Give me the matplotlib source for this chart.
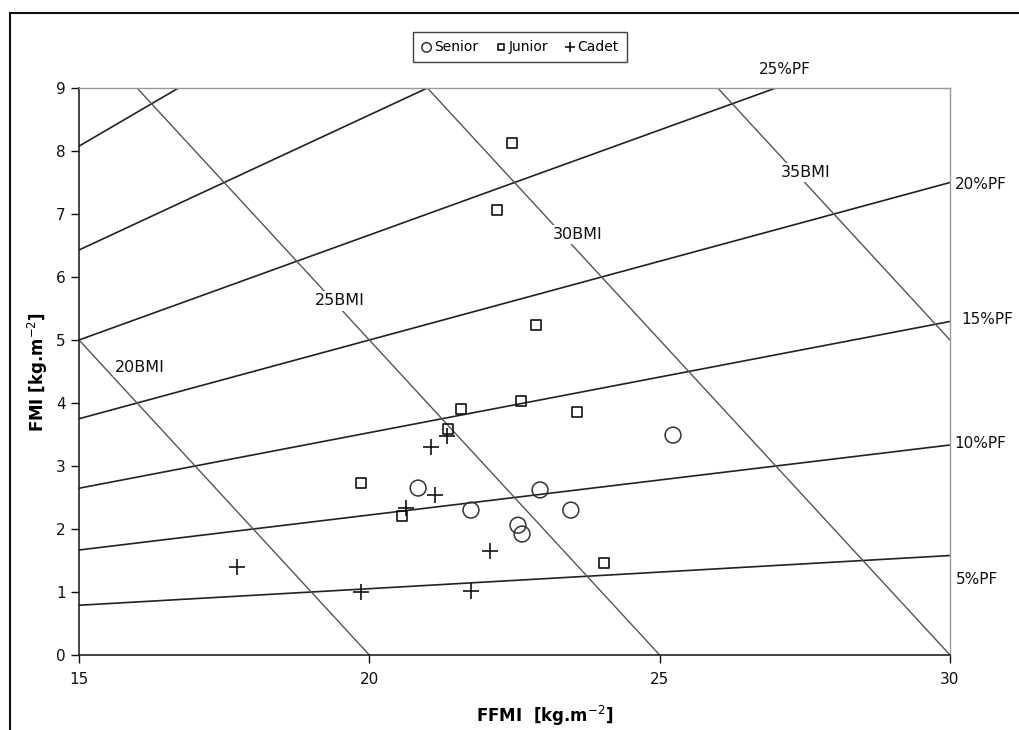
import matplotlib
matplotlib.use("Agg")
import matplotlib.pyplot as plt
import numpy as np
from matplotlib.patches import Rectangle

# reference lines: body mass index and percent fat levels
bmi_levels = [20, 25, 30, 35]
pf_levels = [5, 10, 15, 20, 25, 30, 35]

# Senior
senior_ffmi = [25.23, 20.84, 22.94, 21.75, 23.47, 22.56, 22.63]
senior_fmi = [3.49, 2.65, 2.62, 2.30, 2.30, 2.06, 1.92]

# Junior
junior_ffmi = [22.46, 22.20, 22.87, 21.58, 22.61, 23.58, 21.35, 19.86, 20.56, 24.04]
junior_fmi = [8.13, 7.06, 5.24, 3.90, 4.03, 3.86, 3.59, 2.73, 2.21, 1.46]

# Cadet
cadet_ffmi = [21.06, 21.34, 21.13, 20.63, 22.08, 17.72, 19.86, 21.75]
cadet_fmi = [3.30, 3.47, 2.54, 2.33, 1.65, 1.40, 1.00, 1.02]

fig = plt.figure(figsize=(10.2, 7.3), dpi=100)
ax = fig.add_axes([79/1020, 1 - 655/730, (950 - 79)/1020, (655 - 88)/730])

x = np.array([15.0, 30.0])

# percent fat lines: FMI = p/(100-p) * FFMI
for p in pf_levels:
    ax.plot(x, p / (100 - p) * x, color="#222222", lw=1.2, zorder=1)

# BMI lines: FMI = BMI - FFMI
for b in bmi_levels:
    ax.plot(x, b - x, color="#555555", lw=1.0, zorder=1)

# BMI labels (white box breaks the line like the original)
bmi_label_pos = {20: (16.05, 4.56), 25: (19.5, 5.62), 30: (23.58, 6.68), 35: (27.52, 7.66)}
for b in bmi_levels:
    lx, ly = bmi_label_pos[b]
    ax.text(lx, ly, f"{b}BMI", fontsize=11.5, ha="center", va="center", color="#111111",
            bbox=dict(facecolor="white", edgecolor="none", pad=1.5), zorder=2)

# PF labels outside the plot on the right / top
pf_label_pos = {5: (30.1, 1.2), 10: (30.08, 3.35), 15: (30.2, 5.32), 20: (30.08, 7.47), 25: (27.15, 9.3)}
for p, (lx, ly) in pf_label_pos.items():
    ax.text(lx, ly, f"{p}%PF", fontsize=11, ha="left" if p != 25 else "center",
            va="center", color="#111111", clip_on=False)

ax.scatter(senior_ffmi, senior_fmi, s=130, marker="o", facecolors="none",
           edgecolors="#333333", linewidths=1.1, zorder=3, label="Senior")
ax.scatter(junior_ffmi, junior_fmi, s=50, marker="s", facecolors="none",
           edgecolors="#111111", linewidths=1.2, zorder=3, label="Junior")
ax.scatter(cadet_ffmi, cadet_fmi, s=130, marker="+", color="#111111",
           linewidths=1.2, zorder=3, label="Cadet")

ax.set_xlim(15, 30)
ax.set_ylim(0, 9)
ax.set_xticks([15, 20, 25, 30])
ax.set_yticks(range(0, 10))
ax.tick_params(direction="out", length=6, width=1, labelsize=11, colors="#111111")
ax.tick_params(axis="x", pad=6)

for side in ["left", "bottom"]:
    ax.spines[side].set_color("#111111")
    ax.spines[side].set_linewidth(1.1)
for side in ["top", "right"]:
    ax.spines[side].set_color("#999999")
    ax.spines[side].set_linewidth(1.0)

ax.set_xlabel("FFMI  [kg.m$^{-2}$]", fontsize=12, fontweight="bold")
ax.xaxis.set_label_coords(0.535, -0.086)
ax.set_ylabel("FMI [kg.m$^{-2}$]", fontsize=12, fontweight="bold", labelpad=4)

leg = fig.legend(loc="center", bbox_to_anchor=(520/1020, 1 - 47/730), ncol=3, fontsize=10,
                 frameon=True, fancybox=False, edgecolor="#111111", handlelength=0.8,
                 handletextpad=0.15, columnspacing=1.2, borderpad=0.55, markerscale=0.6)
leg.get_frame().set_linewidth(1.0)

# outer chart frame
fig.patches.append(Rectangle((10/1020, -0.05), 1.1, 1 - 13/730 + 0.05, transform=fig.transFigure,
                             fill=False, edgecolor="#111111", lw=1.5))

fig.savefig("out.png", dpi=100)
